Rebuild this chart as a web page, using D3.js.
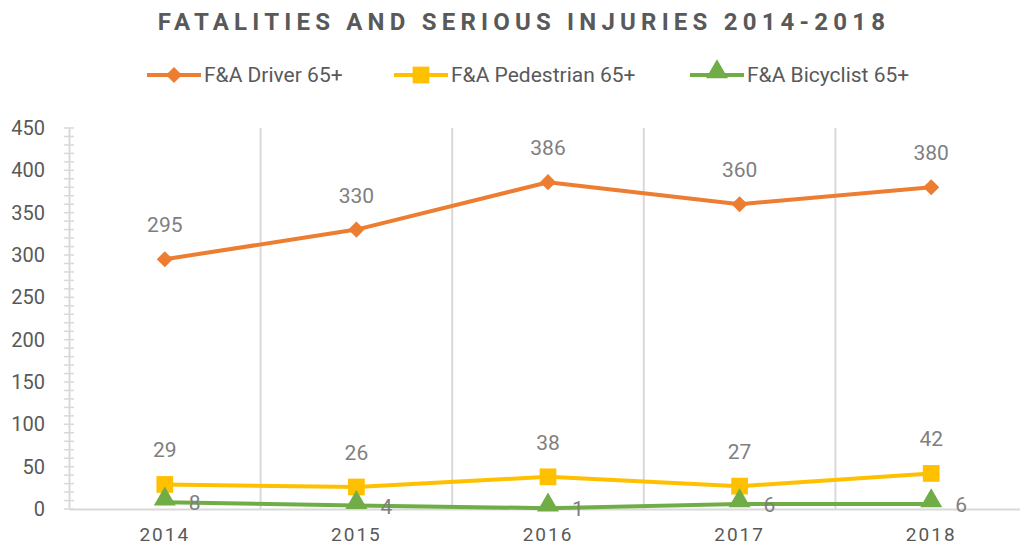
<!DOCTYPE html>
<html><head><meta charset="utf-8">
<script src="https://cdn.jsdelivr.net/npm/d3@7"></script>
<style>body{margin:0;background:#fff;} svg{display:block;}</style>
</head><body>
<svg id="c" width="1020" height="550"></svg>
<script>
const years = ["2014","2015","2016","2017","2018"];
const driver = [295, 330, 386, 360, 380];
const pedestrian = [29, 26, 38, 27, 42];
const bicyclist = [8, 4, 1, 6, 6];
const yTicks = [0,50,100,150,200,250,300,350,400,450];
const seriesNames = ["F&A Driver 65+","F&A Pedestrian 65+","F&A Bicyclist 65+"];
const colors = ["#ED7D31","#FFC000","#70AD47"];

const svg = d3.select("#c");
const x = d3.scaleBand().domain(years).range([69, 1027]);
const y = d3.scaleLinear().domain([0,450]).range([509, 128]);
const cx = d => x(d) + x.bandwidth()/2;

// vertical gridlines at category boundaries
svg.append("g").selectAll("line").data(years.slice(1)).join("line")
  .attr("x1", d=>x(d)).attr("x2", d=>x(d)).attr("y1", y(450)).attr("y2", y(0))
  .attr("stroke","#d9d9d9").attr("stroke-width",2);

// y axis
const yAxis = svg.append("g").attr("transform","translate(69,0)")
  .call(d3.axisLeft(y).tickValues(yTicks).tickSize(0).tickPadding(24));
yAxis.select(".domain").attr("stroke","#d9d9d9").attr("stroke-width",2);
yAxis.selectAll("text").attr("font-family","Roboto, sans-serif").attr("font-size",20).attr("fill","#595959");
// minor ticks
const minor = d3.range(0, 451, 10);
svg.append("g").selectAll("line").data(minor).join("line")
  .attr("x1",64).attr("x2",74).attr("y1",d=>y(d)).attr("y2",d=>y(d))
  .attr("stroke","#d9d9d9").attr("stroke-width",1.5);

// x axis
const xAxis = svg.append("g").attr("transform",`translate(0,${y(0)})`)
  .call(d3.axisBottom(x).tickSize(0).tickPadding(19));
xAxis.select(".domain").attr("stroke","#d9d9d9").attr("stroke-width",2);
xAxis.selectAll("text").attr("font-family","Roboto, sans-serif").attr("font-size",19)
  .attr("fill","#595959").attr("letter-spacing","2px");

const line = d3.line().x((d,i)=>cx(years[i])).y(d=>y(d));
const data = [driver, pedestrian, bicyclist];
const shapes = [d3.symbolSquare, d3.symbolSquare, d3.symbolTriangle];
const sizes = [130, 280, 210];
const rot = [45, 0, 0];
const dy = [0, 0, -3];

data.forEach((vals, s) => {
  svg.append("path").datum(vals).attr("d", line).attr("fill","none")
    .attr("stroke", colors[s]).attr("stroke-width",4).attr("stroke-linejoin","round");
});
data.forEach((vals, s) => {
  svg.append("g").selectAll("path").data(vals).join("path")
    .attr("d", d3.symbol().type(shapes[s]).size(sizes[s]))
    .attr("transform",(d,i)=>`translate(${cx(years[i])},${y(d) + dy[s]}) rotate(${rot[s]})`)
    .attr("fill", colors[s]);
});
// labels
[driver, pedestrian].forEach(vals => {
  svg.append("g").selectAll("text").data(vals).join("text")
    .attr("x",(d,i)=>cx(years[i])).attr("y",d=>y(d)-27)
    .attr("text-anchor","middle").attr("font-family","Roboto, sans-serif")
    .attr("font-size",21).attr("fill","#7f7f7f").text(d=>d);
});
svg.append("g").selectAll("text").data(bicyclist).join("text")
  .attr("x",(d,i)=>cx(years[i])+24).attr("y",d=>y(d)+8)
  .attr("font-family","Roboto, sans-serif")
  .attr("font-size",21).attr("fill","#7f7f7f").text(d=>d);

// title
svg.append("text").attr("x",524).attr("y",30).attr("text-anchor","middle")
  .attr("font-family","Roboto, sans-serif").attr("font-weight","bold")
  .attr("font-size",24).attr("letter-spacing","5.2px").attr("fill","#595959")
  .text("FATALITIES AND SERIOUS INJURIES 2014-2018");

// legend
const legX = [147, 394, 690];
const leg = svg.append("g").selectAll("g").data(seriesNames).join("g")
  .attr("transform",(d,i)=>`translate(${legX[i]},75)`);
leg.append("line").attr("x1",0).attr("x2",54).attr("stroke",(d,i)=>colors[i]).attr("stroke-width",4);
leg.append("path").attr("d",(d,i)=>d3.symbol().type(shapes[i]).size(sizes[i])())
  .attr("transform",(d,i)=>`translate(27,${dy[i]}) rotate(${rot[i]})`)
  .attr("fill",(d,i)=>colors[i]);
leg.append("text").attr("x",57).attr("y",7).attr("font-family","Roboto, sans-serif")
  .attr("font-size",21).attr("fill","#595959").text(d=>d);
</script>
</body></html>
